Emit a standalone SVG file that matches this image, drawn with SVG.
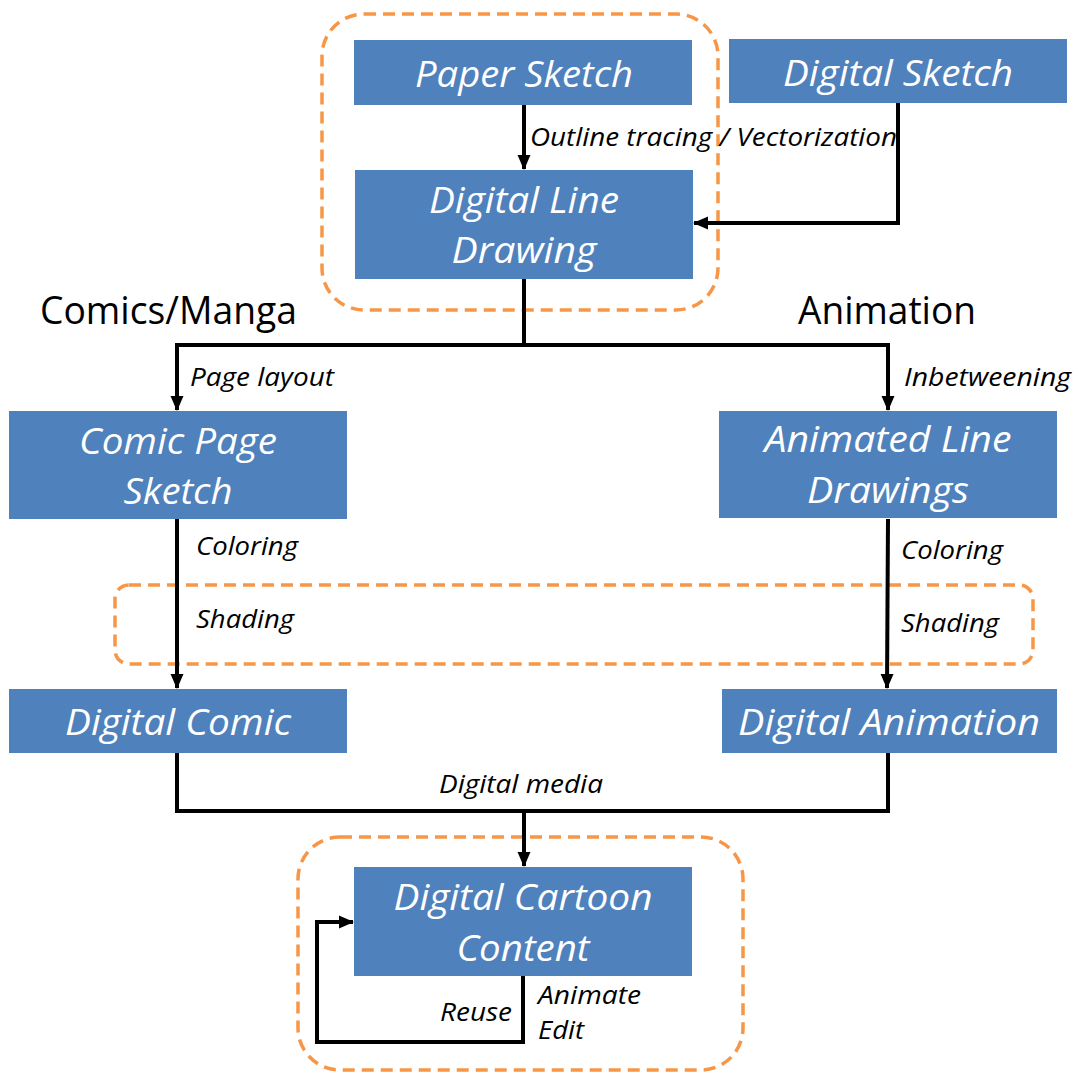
<svg xmlns="http://www.w3.org/2000/svg" width="1076" height="1072" viewBox="0 0 1076 1072">
<style>
.node{fill:#4F81BD;}
.nt{font-family:"Open Sans","Liberation Sans",sans-serif;font-style:italic;font-size:36px;fill:#fff;text-anchor:middle;}
.lb{font-family:"Open Sans","Liberation Sans",sans-serif;font-style:italic;font-size:25px;fill:#000;}
.hd{font-family:"Open Sans","Liberation Sans",sans-serif;font-size:38px;fill:#000;}
.grp{fill:none;stroke:#F79646;stroke-width:3.5;stroke-dasharray:12 7;}
.cn{fill:none;stroke:#000;stroke-width:4;stroke-linejoin:miter;}
</style>
<defs>
<marker id="ah" markerUnits="userSpaceOnUse" markerWidth="16" markerHeight="16" viewBox="0 0 16 16" refX="14" refY="8" orient="auto">
<path d="M0,1.5 L15,8 L0,14.5 Z" fill="#000"/>
</marker>
</defs>
<rect id="background" width="1076" height="1072" fill="#fff"/>

<g id="groups">
<rect class="grp" x="322" y="14" width="396" height="296" rx="42"/>
<rect class="grp" x="115" y="585" width="918" height="79" rx="14"/>
<rect class="grp" x="298" y="837" width="445" height="233" rx="42"/>
</g>

<g id="connectors">
<path class="cn" d="M524,105 V169" marker-end="url(#ah)"/>
<path class="cn" d="M898,103 V223 H694" marker-end="url(#ah)"/>
<path class="cn" d="M524,279 V345 H177 V410" marker-end="url(#ah)"/>
<path class="cn" d="M524,345 H888 V410" marker-end="url(#ah)"/>
<path class="cn" d="M177,519 V688" marker-end="url(#ah)"/>
<path class="cn" d="M888,519 L887,688" marker-end="url(#ah)"/>
<path class="cn" d="M177,753 V811 H888 V753"/>
<path class="cn" d="M524,811 V866" marker-end="url(#ah)"/>
<path class="cn" d="M523,976 V1042 H317 V922 H353" marker-end="url(#ah)"/>
</g>

<g id="labels">
<text class="lb" x="530" y="146" textLength="367" lengthAdjust="spacingAndGlyphs">Outline tracing / Vectorization</text>
<text class="hd" x="40" y="324" textLength="257" lengthAdjust="spacingAndGlyphs">Comics/Manga</text>
<text class="hd" x="798" y="324" textLength="178" lengthAdjust="spacingAndGlyphs">Animation</text>
<text class="lb" x="190" y="386" textLength="144" lengthAdjust="spacingAndGlyphs">Page layout</text>
<text class="lb" x="904" y="386" textLength="167" lengthAdjust="spacingAndGlyphs">Inbetweening</text>
<text class="lb" x="196" y="555" textLength="102" lengthAdjust="spacingAndGlyphs">Coloring</text>
<text class="lb" x="901" y="559" textLength="102" lengthAdjust="spacingAndGlyphs">Coloring</text>
<text class="lb" x="196" y="628" textLength="98" lengthAdjust="spacingAndGlyphs">Shading</text>
<text class="lb" x="901" y="632" textLength="98" lengthAdjust="spacingAndGlyphs">Shading</text>
<text class="lb" x="439" y="793" textLength="164" lengthAdjust="spacingAndGlyphs">Digital media</text>
<text class="lb" x="440" y="1021" textLength="72" lengthAdjust="spacingAndGlyphs">Reuse</text>
<text class="lb" x="538" y="1004" textLength="103" lengthAdjust="spacingAndGlyphs">Animate</text>
<text class="lb" x="538" y="1039" textLength="46" lengthAdjust="spacingAndGlyphs">Edit</text>
</g>

<g id="paper-sketch">
<rect class="node" x="354" y="40" width="338" height="65"/>
<text class="nt" x="524" y="87" textLength="218" lengthAdjust="spacingAndGlyphs">Paper Sketch</text>
</g>
<g id="digital-sketch">
<rect class="node" x="729" y="39" width="338" height="64"/>
<text class="nt" x="898" y="86" textLength="230" lengthAdjust="spacingAndGlyphs">Digital Sketch</text>
</g>
<g id="digital-line-drawing">
<rect class="node" x="355" y="170" width="338" height="109"/>
<text class="nt" x="524" y="213" textLength="190" lengthAdjust="spacingAndGlyphs">Digital Line</text>
<text class="nt" x="524" y="263" textLength="145" lengthAdjust="spacingAndGlyphs">Drawing</text>
</g>
<g id="comic-page-sketch">
<rect class="node" x="9" y="411" width="338" height="108"/>
<text class="nt" x="178" y="454" textLength="198" lengthAdjust="spacingAndGlyphs">Comic Page</text>
<text class="nt" x="178" y="504" textLength="109" lengthAdjust="spacingAndGlyphs">Sketch</text>
</g>
<g id="animated-line-drawings">
<rect class="node" x="719" y="411" width="338" height="107"/>
<text class="nt" x="888" y="452" textLength="247" lengthAdjust="spacingAndGlyphs">Animated Line</text>
<text class="nt" x="888" y="503" textLength="162" lengthAdjust="spacingAndGlyphs">Drawings</text>
</g>
<g id="digital-comic">
<rect class="node" x="9" y="689" width="338" height="64"/>
<text class="nt" x="178" y="735" textLength="226" lengthAdjust="spacingAndGlyphs">Digital Comic</text>
</g>
<g id="digital-animation">
<rect class="node" x="722" y="689" width="335" height="64"/>
<text class="nt" x="889" y="735" textLength="302" lengthAdjust="spacingAndGlyphs">Digital Animation</text>
</g>
<g id="digital-cartoon-content">
<rect class="node" x="354" y="867" width="338" height="109"/>
<text class="nt" x="523" y="910" textLength="259" lengthAdjust="spacingAndGlyphs">Digital Cartoon</text>
<text class="nt" x="523" y="961" textLength="133" lengthAdjust="spacingAndGlyphs">Content</text>
</g>
</svg>
